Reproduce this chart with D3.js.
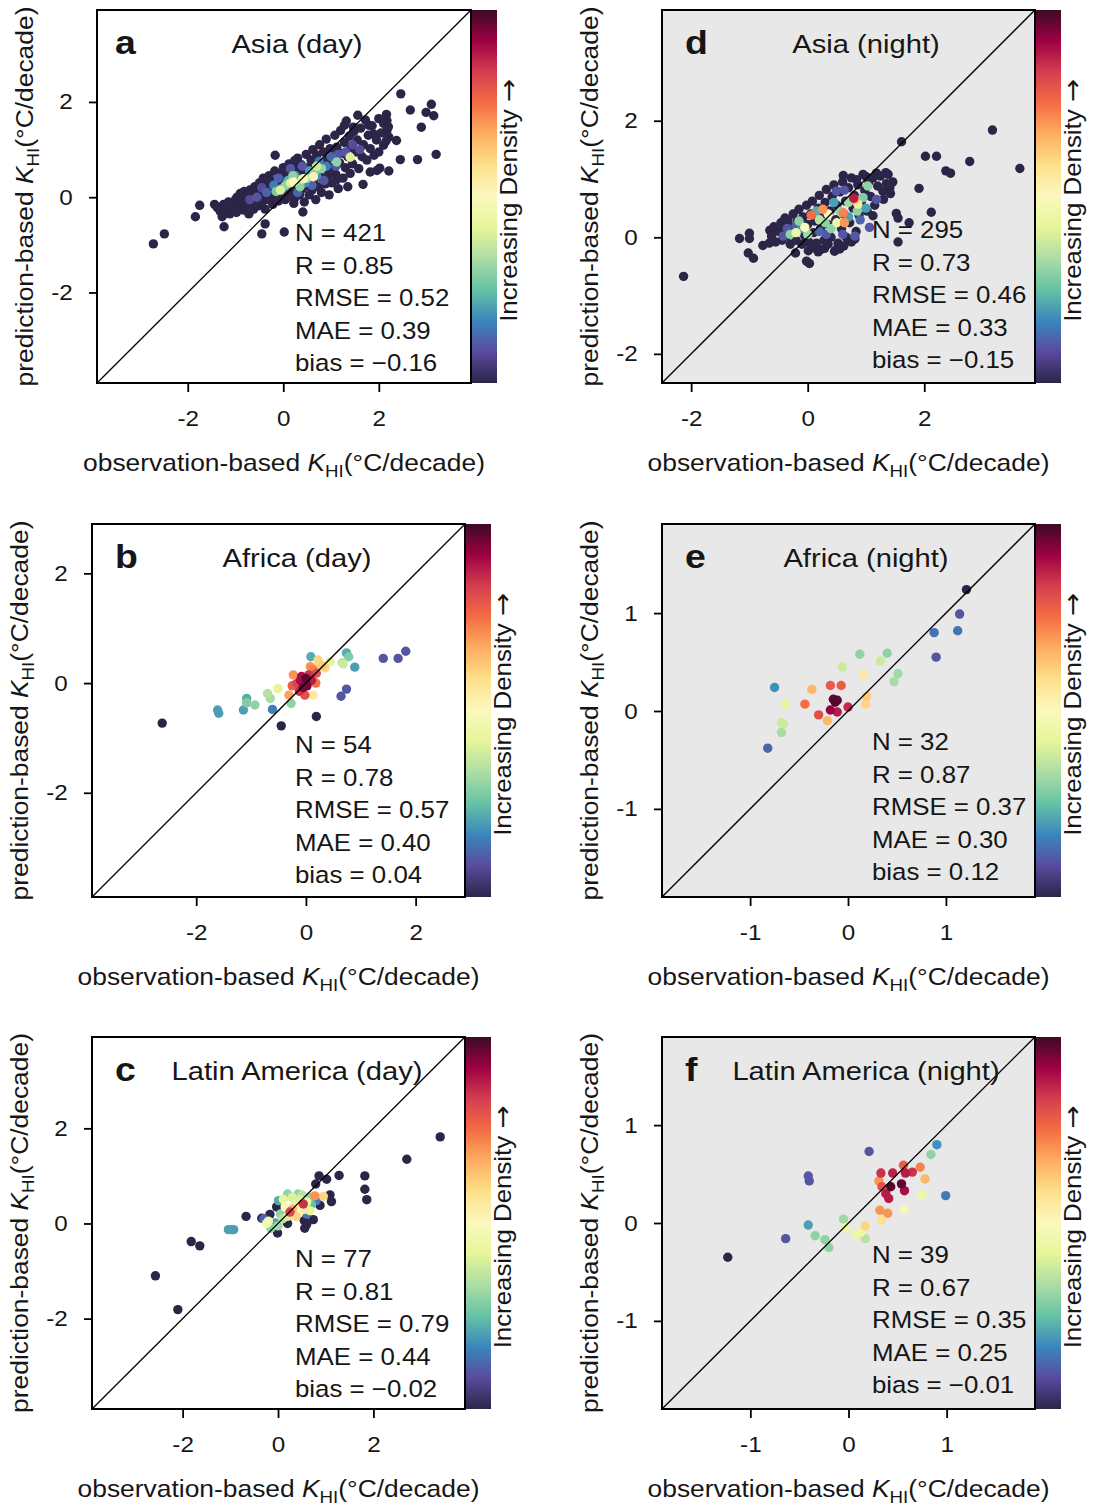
<!DOCTYPE html>
<meta charset="utf-8">
<html>
<head>
    <script src="https://d3js.org/d3.v7.min.js"></script>
    <style>
        body { margin: 0; background: #fff; }
        svg text { font-family: "Liberation Sans", Arial, sans-serif; fill: #161616; }
    </style>
</head>
<body>
<script>
    // ---- data: [observation-based, prediction-based, density level 0..1] ----
    var asiaDay = [
        [-2.72,-0.98],[-2.49,-0.77],[-1.84,-0.41],[-1.75,-0.17],[-1.44,-0.15],[-1.25,-0.15],[-1.24,-0.62],[-1.28,-0.41],
        [-0.97,0.0],[-0.83,-0.27],[-0.45,-0.77],[-0.38,-0.56],[0.02,-0.73],[-0.17,0.88],[0.01,0.6],[0.24,0.77],
        [0.41,-0.31],[0.22,-0.13],[1.35,0.22],[1.67,0.27],[1.82,0.53],[1.96,0.56],[2.02,0.61],[2.21,0.55],[2.45,0.79],
        [2.81,0.79],[3.20,0.90],[2.37,1.19],[2.89,1.47],[2.66,1.83],[2.46,2.17],[2.99,1.78],[3.15,1.71],[3.10,1.95],
        [2.16,1.74],[2.17,1.61],[1.56,1.72],[1.28,1.51],[1.79,1.51],[2.17,1.40],[2.21,1.26],[2.10,1.09],[1.89,1.33],
        [2.0,0.95],[1.47,1.47],[1.12,0.37],
        [-1.38,-0.22],[-1.32,-0.30],[-1.20,-0.28],[-1.15,-0.10],[-1.12,-0.35],[-1.05,-0.20],[-1.00,-0.05],[-0.98,-0.32],
        [-0.92,-0.16],[-0.90,0.08],[-0.86,-0.06],[-0.82,0.12],[-0.80,-0.20],[-0.76,0.02],[-0.72,-0.35],[-0.70,0.15],
        [-0.68,-0.12],[-0.64,0.05],[-0.62,-0.25],[-0.60,0.22],[-0.58,-0.02],[-0.55,0.10],[-0.52,-0.18],[-0.50,0.30],
        [-0.48,0.02],[-0.46,0.18],[-0.44,-0.10],[-0.42,0.40],[-0.40,0.08],[-0.38,-0.25],[-0.36,0.26],[-0.34,0.12],
        [-0.32,-0.05],[-0.30,0.45],[-0.28,0.20],[-0.26,0.02],[-0.24,0.32],[-0.22,-0.15],[-0.20,0.14],[-0.18,0.55],
        [-0.16,0.25],[-0.14,0.05],[-0.12,0.38],[-0.10,-0.08],[-0.08,0.18],[-0.06,0.48],[-0.04,0.28],[-0.02,0.08],
        [0.00,0.62],[0.02,0.35],[0.04,-0.05],[0.06,0.22],[0.08,0.48],[0.10,0.12],[0.12,0.70],[0.14,0.30],[0.16,0.02],
        [0.18,0.55],[0.20,0.20],[0.22,0.40],[0.24,-0.02],[0.26,0.62],[0.28,0.15],[0.30,0.82],[0.32,0.48],[0.34,0.05],
        [0.36,0.30],[0.38,0.68],[0.40,0.18],[0.42,0.52],[0.44,-0.10],[0.46,0.40],[0.48,0.90],[0.50,0.25],[0.52,0.62],
        [0.54,0.05],[0.56,0.45],[0.58,0.78],[0.60,0.15],[0.62,1.00],[0.64,0.35],[0.66,0.58],[0.68,-0.05],[0.70,0.88],
        [0.72,0.22],[0.74,0.50],[0.76,1.10],[0.78,0.68],[0.80,0.10],[0.82,0.40],[0.84,0.95],[0.86,0.60],[0.88,0.28],
        [0.90,1.22],[0.92,0.78],[0.94,0.45],[0.96,0.05],[0.98,1.02],[1.00,0.62],[1.02,0.30],[1.05,0.88],[1.08,1.30],
        [1.10,0.48],[1.12,1.05],[1.15,0.18],[1.18,0.72],[1.20,1.40],[1.22,0.92],[1.25,0.40],[1.28,1.15],[1.30,0.62],
        [1.32,1.60],[1.35,0.85],[1.38,1.28],[1.40,0.50],[1.42,1.05],[1.45,0.70],[1.48,1.38],[1.52,0.95],[1.55,1.20],
        [1.58,0.60],[1.62,1.45],[1.65,0.85],[1.68,1.10],[1.72,1.62],[1.75,0.78],[1.78,1.30],[1.82,1.02],[1.86,1.50],
        [1.90,0.88],[1.95,1.20],[2.00,1.65],[2.05,1.35],[2.10,1.55],[2.15,1.18],[2.20,1.48],
        [-0.55,0.0,0.1],[-0.35,0.10,0.12],[-0.2,0.25,0.15],[0.0,0.2,0.2],[0.1,0.35,0.22],[0.25,0.45,0.2],[0.45,0.3,0.18],
        [0.55,0.55,0.2],[0.7,0.45,0.18],[0.75,0.75,0.15],[0.9,0.65,0.15],[1.0,0.85,0.12],[1.15,0.9,0.1],[1.3,0.95,0.1],
        [1.45,1.1,0.08],[0.3,0.1,0.12],[0.6,0.25,0.12],[-0.1,0.4,0.12],[0.15,0.6,0.1],[0.85,0.35,0.1],[-0.45,0.2,0.08],
        [1.1,0.65,0.1],[-0.7,-0.05,0.08],[1.6,1.0,0.08],[0.4,0.65,0.1],
        [0.05,0.25,0.3],[0.35,0.22,0.3],[0.5,0.4,0.32],[0.8,0.6,0.3],[1.12,0.74,0.3],[-0.15,0.12,0.28],[0.65,0.52,0.3],
        [0.2,0.45,0.3],[-0.06,0.15,0.4],[1.40,0.84,0.4],[0.4,0.38,0.4],[0.15,0.3,0.4],[0.7,0.65,0.38],
        [0.22,0.32,0.5],[0.43,0.39,0.48],[0.63,0.43,0.52]
    ];
    var asiaNight = [
        [-2.13,-0.67],[-1.17,-0.02],[-1.0,0.07],[-1.0,-0.02],[-1.02,-0.27],[-0.93,-0.36],[-0.77,-0.14],[-0.66,-0.10],
        [-0.65,0.12],[-0.39,0.33],[-0.21,-0.27],[-0.02,-0.41],[0.03,-0.45],[0.01,-0.23],[0.23,-0.21],[0.29,-0.19],
        [0.46,-0.24],[0.49,-0.21],[0.66,0.0],[0.81,-0.03],[1.55,-0.08],[1.52,0.41],[1.55,0.33],[1.74,0.25],[2.12,0.43],
        [1.91,0.84],[2.02,1.39],[2.21,1.39],[2.78,1.30],[2.37,1.14],[2.45,1.10],[3.17,1.84],[3.64,1.18],[1.61,1.64],
        [0.61,1.06],[0.84,0.99],[1.0,1.04],[1.18,1.10],[1.34,1.11],[1.46,0.95],[1.41,0.85],[1.29,0.79],[1.42,0.75],
        [1.12,0.37],
        [-0.62,0.02],[-0.58,0.18],[-0.55,-0.08],[-0.50,0.10],[-0.46,0.25],[-0.44,-0.05],[-0.40,0.12],[-0.36,0.02],
        [-0.34,0.30],[-0.30,-0.12],[-0.28,0.18],[-0.25,0.40],[-0.22,0.06],[-0.20,-0.05],[-0.18,0.28],[-0.15,0.48],
        [-0.12,0.14],[-0.10,-0.12],[-0.08,0.35],[-0.05,0.02],[-0.02,0.55],[0.00,0.22],[0.02,-0.08],[0.05,0.40],
        [0.08,0.62],[0.10,0.08],[0.12,0.28],[0.15,-0.10],[0.18,0.50],[0.20,0.72],[0.22,0.15],[0.25,0.35],[0.28,-0.05],
        [0.30,0.60],[0.32,0.82],[0.35,0.22],[0.38,0.45],[0.40,0.00],[0.42,0.70],[0.45,0.90],[0.48,0.30],[0.50,0.55],
        [0.52,-0.10],[0.55,0.78],[0.58,0.15],[0.60,0.95],[0.62,0.40],[0.65,0.62],[0.68,-0.02],[0.70,0.85],[0.72,0.25],
        [0.75,1.02],[0.78,0.50],[0.80,0.72],[0.83,0.10],[0.86,0.90],[0.88,0.38],[0.92,0.62],[0.95,1.08],[0.98,0.80],
        [1.02,0.45],[1.05,0.95],[1.08,0.70],[1.12,1.02],[1.15,0.55],[1.20,0.88],[1.25,1.05],[1.30,0.65],[1.35,0.92],
        [1.38,1.08],[0.1,-0.18],[0.18,-0.25],[0.35,-0.12],[0.55,-0.2],[0.62,-0.15],[0.75,-0.08],
        [0.49,0.79,0.1],[0.63,0.81,0.1],[1.18,0.65,0.1],[1.06,0.17,0.1],[0.81,0.02,0.1],[0.32,0.05,0.1],[-0.42,0.02,0.1],
        [0.9,0.3,0.12],[-0.2,0.2,0.12],[0.2,0.1,0.12],[0.6,0.05,0.1],[-0.35,0.15,0.1],
        [1.0,0.5,0.2],[0.7,0.35,0.2],[-0.1,0.15,0.18],[0.45,0.6,0.2],[0.15,0.45,0.22],
        [1.03,0.88,0.3],[-0.3,0.05,0.3],[0.0,0.05,0.32],[0.55,0.45,0.3],[0.85,0.45,0.3],[0.3,0.25,0.3],[0.95,0.68,0.28],
        [-0.15,0.28,0.3],[0.4,0.15,0.3],[0.7,0.6,0.32],[0.2,0.3,0.35],
        [-0.05,0.17,0.5],[-0.2,0.08,0.45],[0.5,0.25,0.45],[0.86,0.57,0.55],[0.35,0.4,0.5],
        [0.06,0.38,0.75],[0.61,0.42,0.72],[0.63,0.25,0.7],[0.81,0.65,0.65],[0.26,0.48,0.7],[0.79,0.67,0.88]
    ];
    var africaDay = [
        [-2.62,-0.73,0],[-1.61,-0.49,0.2],[-1.59,-0.55,0.2],[-1.14,-0.49,0.2],[-1.08,-0.28,0.22],[-1.08,-0.36,0.28],
        [-0.93,-0.40,0.3],[-0.70,-0.19,0.35],[-0.65,-0.28,0.33],[-0.51,-0.10,0.42],[-0.61,-0.48,0.16],[-0.45,-0.78,0],
        [-0.27,-0.37,0.3],[0.19,-0.61,0],[0.09,0.48,0.22],[0.44,0.39,0.42],[0.74,0.55,0.22],[0.78,0.48,0.28],
        [0.68,0.35,0.38],[0.66,0.37,0.36],[0.89,0.29,0.2],[0.74,-0.11,0.1],[0.64,-0.24,0.1],[1.41,0.45,0.1],
        [1.68,0.45,0.1],[1.82,0.58,0.1],
        [-0.23,0.15,0.7],[-0.17,-0.01,0.82],[-0.10,0.05,0.9],[-0.05,-0.08,0.95],[0.0,0.08,0.97],[-0.08,0.12,0.9],
        [0.02,-0.05,0.95],[0.05,0.15,0.85],[0.13,0.25,0.72],[0.19,0.18,0.8],[0.18,0.0,0.75],[-0.02,-0.22,0.8],
        [0.13,-0.22,0.55],[0.30,0.31,0.62],[-0.31,-0.22,0.68],[0.08,0.3,0.7],[-0.12,-0.15,0.85],[0.1,0.05,0.88],
        [-0.25,-0.05,0.78],[0.25,0.35,0.6],[0.35,0.28,0.6],[0.22,0.42,0.6]
    ];
    var africaNight = [
        [1.21,1.24,0],[1.14,0.99,0.1],[1.12,0.82,0.14],[0.88,0.80,0.14],[0.90,0.55,0.1],[0.12,0.58,0.3],[0.40,0.59,0.3],
        [0.33,0.51,0.38],[-0.06,0.45,0.38],[0.16,0.37,0.55],[0.51,0.38,0.32],[0.47,0.30,0.33],[-0.75,0.24,0.18],
        [-0.37,0.22,0.65],[-0.18,0.26,0.78],[-0.07,0.26,0.78],[-0.64,0.07,0.42],[-0.44,0.07,0.75],[-0.13,0.09,0.98],
        [-0.11,0.11,0.98],[-0.15,0.12,0.97],[-0.18,0.01,0.92],[-0.11,-0.01,0.88],[-0.30,-0.04,0.8],[0.0,0.04,0.86],
        [0.19,0.15,0.62],[0.18,0.07,0.6],[-0.21,-0.10,0.65],[-0.68,-0.12,0.38],[-0.66,-0.13,0.38],[-0.68,-0.22,0.33],
        [-0.82,-0.38,0.12]
    ];
    var latamDay = [
        [-2.57,-1.10],[-2.10,-1.81],[-1.82,-0.38],[-1.64,-0.47],[-0.67,0.15],[-0.34,0.11],[-0.17,0.19],[-0.03,0.35],
        [-0.01,-0.20],[0.56,-0.10],[0.74,0.08],[0.55,0.06],[0.86,1.0],[1.02,0.93],[1.28,1.01],[0.79,0.83],[1.09,0.60],
        [1.12,0.46],[0.88,0.38],[1.82,1.0],[1.82,0.72],[1.86,0.50],[2.70,1.35],[3.40,1.82],[0.65,0.35],[0.6,-0.02],
        [0.2,0.0],
        [-1.04,-0.13,0.2],[-0.93,-0.13,0.2],[-0.97,-0.13,0.2],
        [0.01,0.48,0.22],[0.11,0.51,0.42],[0.25,0.24,0.82],[0.53,0.41,0.85],[0.77,0.58,0.7],[0.95,0.57,0.6],
        [0.42,0.62,0.3],[0.67,0.27,0.42],[-0.24,0.0,0.48],[-0.20,0.05,0.45],[-0.06,0.01,0.2],[0.1,0.1,0.35],
        [0.2,0.15,0.4],[0.3,0.55,0.4],[0.5,0.6,0.35],[0.6,0.45,0.45],[0.45,0.25,0.5],[0.35,0.38,0.55],[0.15,0.35,0.5],
        [0.05,0.2,0.3],[0.2,0.62,0.3],[0.65,0.55,0.3],[0.7,0.4,0.25],[-0.15,-0.1,0.3],[0.0,-0.05,0.32],[0.38,0.15,0.6],
        [0.55,0.3,0.55],[0.6,0.2,0.15],[-0.3,0.1,0.12],[0.3,0.3,0.65],[0.8,0.48,0.15],[0.45,0.5,0.4]
    ];
    var latamNight = [
        [-1.23,-0.35,0],[-0.64,-0.16,0.1],[-0.41,-0.02,0.2],[-0.34,-0.13,0.3],[-0.24,-0.17,0.3],[-0.20,-0.25,0.3],
        [-0.41,0.48,0.1],[-0.40,0.43,0.1],[0.21,0.73,0.1],[-0.05,0.04,0.32],[0.07,-0.12,0.45],[0.17,-0.16,0.35],
        [0.17,-0.03,0.6],[0.34,0.03,0.58],[0.32,0.13,0.7],[0.40,0.10,0.7],[0.57,0.14,0.48],[0.75,0.29,0.45],
        [0.99,0.28,0.15],[0.78,0.45,0.65],[0.73,0.57,0.72],[0.84,0.70,0.3],[0.90,0.80,0.18],[0.31,0.43,0.7],
        [0.56,0.59,0.78],[0.33,0.51,0.85],[0.45,0.51,0.87],[0.58,0.51,0.88],[0.65,0.52,0.85],[0.43,0.37,0.98],
        [0.54,0.40,0.97],[0.38,0.30,0.88],[0.41,0.25,0.88],[0.57,0.33,0.9],[0.34,0.37,0.8],[-0.03,-0.05,0.45],
        [0.12,-0.1,0.45]
    ];

    // panel texts
    var letters = ["a", "b", "c", "d", "e", "f"];
    var titles = ["Asia (day)", "Africa (day)", "Latin America (day)", "Asia (night)", "Africa (night)", "Latin America (night)"];
    var statsN = ["421", "54", "77", "295", "32", "39"];
    var statsR = ["0.85", "0.78", "0.81", "0.73", "0.87", "0.67"];
    var statsRMSE = ["0.52", "0.57", "0.79", "0.46", "0.37", "0.35"];
    var statsMAE = ["0.39", "0.40", "0.44", "0.33", "0.30", "0.25"];
    var statsBias = ["\u22120.16", "0.04", "\u22120.02", "\u22120.15", "0.12", "\u22120.01"];
    var domains = [[-3.9, 3.93], [-3.9, 2.9], [-3.9, 3.92], [-2.5, 3.9], [-1.9, 1.91], [-1.9, 1.9]];
    var tickVals = [[-2, 0, 2], [-2, 0, 2], [-2, 0, 2], [-2, 0, 2], [-1, 0, 1], [-1, 0, 1]];
    var allData = [asiaDay, africaDay, latamDay, asiaNight, africaNight, latamNight];

    // colour ramp of the density bar (bottom -> top)
    var densityColors = ["#2c2548", "#5a4a9e", "#3a86bd", "#66c2a5", "#abdda4", "#e6f598", "#fbf8bf",
                         "#fee08b", "#fdae61", "#f46d43", "#d53e4f", "#9e0142", "#3c0a26"];

    // layout: [left, top, right, bottom] of each plot box, plus text anchors
    var boxes = [[97, 10, 471, 383], [92, 524, 465, 897], [92, 1037, 465, 1409],
                 [662, 10, 1035, 383], [662, 524, 1035, 897], [662, 1037, 1035, 1409]];
    var titleX = [297, 297, 297, 866, 866, 866];
    var letterX = [115, 115, 115, 685, 685, 685];
    var statsX = [295, 295, 295, 872, 872, 872];
    var statsBottom = [12, 14, 12, 15, 17, 16];

    var svg = d3.select("body").append("svg")
        .attr("width", 1093)
        .attr("height", 1506);

    var color = d3.scaleLinear()
        .domain(densityColors.map(function(c, i) { return i / (densityColors.length - 1); }))
        .range(densityColors)
        .interpolate(d3.interpolateRgb);

    var defs = svg.append("defs");
    var grad = defs.append("linearGradient").attr("id", "densityGrad")
        .attr("x1", 0).attr("y1", 1).attr("x2", 0).attr("y2", 0);
    densityColors.forEach(function(c, i) {
        grad.append("stop").attr("offset", i / (densityColors.length - 1)).attr("stop-color", c);
    });

    // original lettering is a little wider than Arial
    var STRETCH = 1.1;
    function label(g, x, y, size, anchor, rot) {
        return g.append("text")
            .attr("transform", "translate(" + x + "," + y + ")" + (rot ? " rotate(" + rot + ")" : "") + " scale(" + STRETCH + ",1)")
            .attr("text-anchor", anchor)
            .style("font-size", size + "px");
    }

    function axisTitle(g, x, y, rot, prefix) {
        var t = label(g, x, y, 24, "middle", rot);
        t.append("tspan").text(prefix + " ");
        t.append("tspan").style("font-style", "italic").text("K");
        t.append("tspan").style("font-size", "17px").attr("dy", 6).text("HI");
        t.append("tspan").attr("dy", -6).text("(\u00b0C/decade)");
    }

    allData.forEach(function(data, i) {
        var b = boxes[i];
        var night = i >= 3;
        var x = d3.scaleLinear().domain(domains[i]).range([b[0], b[2]]);
        var y = d3.scaleLinear().domain(domains[i]).range([b[3], b[1]]);
        var g = svg.append("g");

        defs.append("clipPath").attr("id", "clip" + i).append("rect")
            .attr("x", b[0]).attr("y", b[1]).attr("width", b[2] - b[0]).attr("height", b[3] - b[1]);

        g.append("rect")
            .attr("x", b[0]).attr("y", b[1])
            .attr("width", b[2] - b[0]).attr("height", b[3] - b[1])
            .attr("fill", night ? "#e8e8e8" : "#ffffff");

        var pts = data.map(function(d) { return {x: d[0], y: d[1], d: d[2] || 0}; })
            .sort(function(p, q) { return p.d - q.d; });

        g.append("g").attr("clip-path", "url(#clip" + i + ")")
            .selectAll("circle")
            .data(pts)
            .join("circle")
            .attr("cx", function(d) { return x(d.x); })
            .attr("cy", function(d) { return y(d.y); })
            .attr("r", 4.7)
            .attr("fill", function(d) { return color(d.d); });

        // 1:1 line
        g.append("line")
            .attr("x1", x(domains[i][0])).attr("y1", y(domains[i][0]))
            .attr("x2", x(domains[i][1])).attr("y2", y(domains[i][1]))
            .attr("stroke", "#000").attr("stroke-width", 1.3);

        // axes
        var xa = g.append("g").attr("transform", "translate(0," + b[3] + ")")
            .call(d3.axisBottom(x).tickValues(tickVals[i]).tickSize(9).tickPadding(18).tickFormat(function(d) { return String(d); }));
        var ya = g.append("g").attr("transform", "translate(" + b[0] + ",0)")
            .call(d3.axisLeft(y).tickValues(tickVals[i]).tickSize(8).tickPadding(14).tickFormat(function(d) { return String(d); }));
        [xa, ya].forEach(function(a) {
            a.select(".domain").remove();
            a.selectAll("line").attr("stroke", "#000").attr("stroke-width", 1.8);
            a.selectAll("text")
                .attr("fill", "#161616")
                .attr("transform", "scale(" + STRETCH + ",1)")
                .style("font-size", "22px")
                .style("font-family", "'Liberation Sans', Arial, sans-serif");
        });

        // density bar
        g.append("rect")
            .attr("x", b[2]).attr("y", b[1])
            .attr("width", 26).attr("height", b[3] - b[1])
            .attr("fill", "url(#densityGrad)");
        var cb = label(g, b[2] + 46, (b[1] + b[3]) / 2 + 4, 23.5, "middle", -90);
        cb.append("tspan").text("Increasing Density ");
        cb.append("tspan").style("font-family", "'DejaVu Sans', sans-serif").style("font-size", "25px").text("\u2192");

        // box
        g.append("rect")
            .attr("x", b[0]).attr("y", b[1])
            .attr("width", b[2] - b[0]).attr("height", b[3] - b[1])
            .attr("fill", "none").attr("stroke", "#000").attr("stroke-width", 2);

        // titles
        label(g, letterX[i], b[1] + 44, 34, "start").style("font-weight", "bold").text(letters[i]);
        label(g, titleX[i], b[1] + 43, 26.5, "middle").text(titles[i]);

        var lines = ["N = " + statsN[i], "R = " + statsR[i], "RMSE = " + statsRMSE[i],
                     "MAE = " + statsMAE[i], "bias = " + statsBias[i]];
        lines.forEach(function(s, k) {
            label(g, statsX[i], b[3] - statsBottom[i] - (4 - k) * 32.4, 23.5, "start").text(s);
        });

        axisTitle(g, (b[0] + b[2]) / 2, b[3] + 88, 0, "observation-based");
        axisTitle(g, b[0] - 64, (b[1] + b[3]) / 2, -90, "prediction-based");
    });
</script>
</body>
</html>
